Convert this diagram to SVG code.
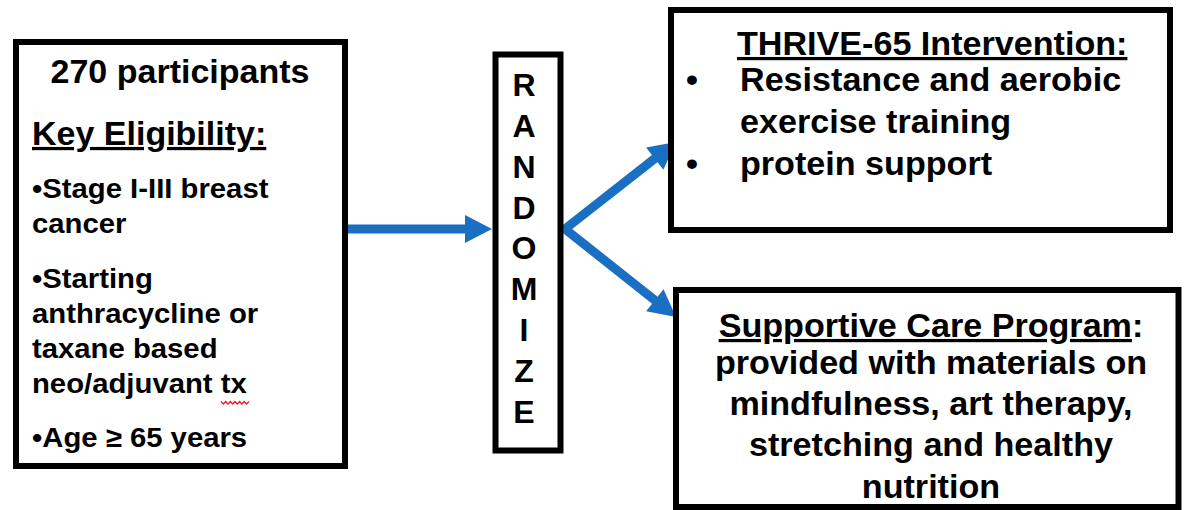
<svg xmlns="http://www.w3.org/2000/svg" width="1194" height="510" viewBox="0 0 1194 510">
  <style>
    .box { fill: #ffffff; stroke: #000000; stroke-width: 6; }
    .t { font-family: "Liberation Sans", Arial, Helvetica, sans-serif; fill: #000000; font-weight: bold; }
    .u { text-decoration: underline; }
    .flow { fill: none; stroke: #1a6fc3; stroke-width: 9; stroke-linejoin: miter; }
  </style>
  <defs>
    <marker id="head" markerUnits="userSpaceOnUse" markerWidth="28" markerHeight="28" viewBox="0 0 27 28" refX="2" refY="14" orient="auto-start-reverse">
      <path d="M0,0 L27,14 L0,28 Z" fill="#1a6fc3"/>
    </marker>
  </defs>

  <rect width="1194" height="510" fill="#ffffff"/>

  <!-- connectors -->
  <g id="connectors">
    <line class="flow" x1="345" y1="229" x2="467" y2="229" marker-end="url(#head)"/>
    <path class="flow" d="M656.3,157.4 L565,229 L656.4,301.5" marker-start="url(#head)" marker-end="url(#head)"/>
  </g>

  <!-- participants and eligibility -->
  <g id="eligibility">
    <rect class="box" x="16" y="42" width="329" height="424"/>
    <g class="t" transform="matrix(1.05,0,0,1,-1.6,0)">
      <text x="172.95" y="83" font-size="32.4" text-anchor="middle">270 participants</text>
      <text class="u" x="32" y="145" font-size="32.4">Key Eligibility:</text>
      <g font-size="27.9">
        <text x="32" y="198">•Stage I-III breast</text>
        <text x="32" y="233">cancer</text>
        <text x="32" y="288">•Starting</text>
        <text x="32" y="323">anthracycline or</text>
        <text x="32" y="358">taxane based</text>
        <text x="32" y="393">neo/adjuvant tx</text>
        <text x="32" y="447">•Age ≥ 65 years</text>
      </g>
    </g>
    <path d="M221,401.5 l2.33,2.5 l2.33,-2.5 l2.33,2.5 l2.33,-2.5 l2.33,2.5 l2.33,-2.5 l2.33,2.5 l2.33,-2.5 l2.33,2.5 l2.33,-2.5 l2.33,2.5 l2.33,-2.5" fill="none" stroke="#e8202a" stroke-width="1.3"/>
  </g>

  <!-- randomization -->
  <g id="randomize">
    <rect class="box" x="495.5" y="54.5" width="65" height="396" stroke-width="5"/>
    <g class="t" font-size="32" text-anchor="middle">
      <text x="524" y="96">R</text>
      <text x="524" y="137">A</text>
      <text x="524" y="178">N</text>
      <text x="524" y="219">D</text>
      <text x="524" y="259">O</text>
      <text x="524" y="300">M</text>
      <text x="524" y="341">I</text>
      <text x="524" y="382">Z</text>
      <text x="524" y="423">E</text>
    </g>
  </g>

  <!-- intervention arm -->
  <g id="intervention">
    <rect class="box" x="671" y="10" width="499" height="220"/>
    <g class="t" font-size="32.5" transform="matrix(1.05,0,0,1,-37,0)">
      <text class="u" x="737.1" y="55">THRIVE-65 Intervention:</text>
      <text x="688.6" y="91">•</text>
      <text x="740" y="91">Resistance and aerobic</text>
      <text x="740" y="133">exercise training</text>
      <text x="688.6" y="175">•</text>
      <text x="740" y="175">protein support</text>
    </g>
  </g>

  <!-- control arm -->
  <g id="supportive-care">
    <rect class="box" x="676" y="290" width="502.5" height="217"/>
    <g class="t" font-size="32.5" text-anchor="middle" transform="matrix(1.05,0,0,1,-46.55,0)">
      <text x="931" y="337"><tspan class="u">Supportive Care Program</tspan>:</text>
      <text x="931" y="374">provided with materials on</text>
      <text x="931" y="415">mindfulness, art therapy,</text>
      <text x="931" y="456">stretching and healthy</text>
      <text x="931" y="498">nutrition</text>
    </g>
  </g>
</svg>
